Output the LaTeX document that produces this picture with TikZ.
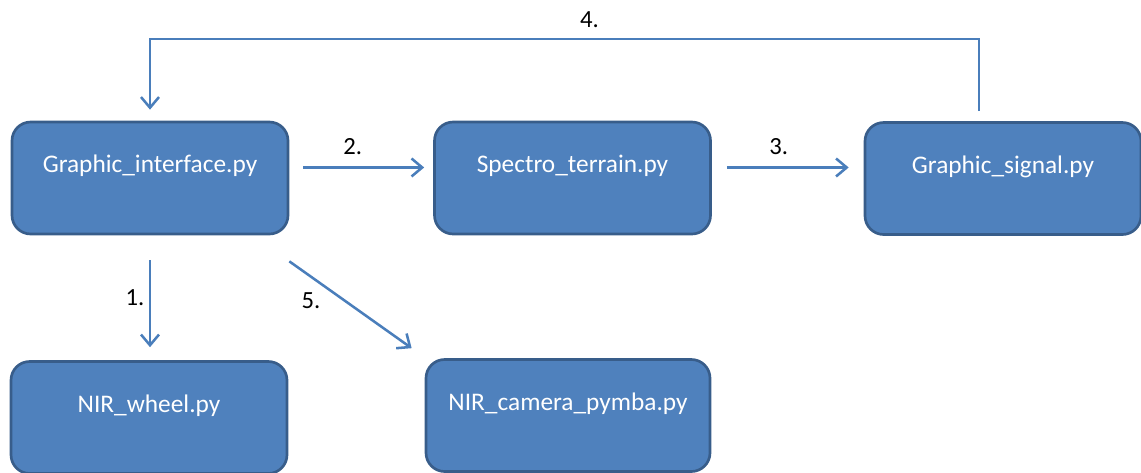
\documentclass[tikz,border=0pt]{standalone}
\usepackage{fontspec}
\setmainfont{Carlito}
\usetikzlibrary{arrows.meta}
\definecolor{boxfill}{HTML}{4F81BD}
\definecolor{boxline}{HTML}{385D8A}
\definecolor{arrowblue}{HTML}{4A7EBB}
\begin{document}
\begin{tikzpicture}
    [
    x=0.75pt, y=-0.75pt,
    module/.style={
      rectangle,
      rounded corners=14pt,
      fill=boxfill,
      draw=boxline,
      line width=2pt,
      text=white,
      font=\fontsize{19}{23}\selectfont,
      minimum width=207pt,
      inner sep=0pt,
      text height=38pt,
      text depth=46pt
    },
    flow/.style={
      draw=arrowblue,
      line width=1.9pt,
      -{Straight Barb[length=8pt,width=13.5pt]}
    },
    num/.style={
      text=black,
      font=\fontsize{18.5}{22}\selectfont
    }]
    \useasboundingbox (0,0) rectangle (1141,472);
    \node (gui) at (150,178) [module] {Graphic\_interface.py};
    \node (spectro) at (572.5,178) [module] {Spectro\_terrain.py};
    \node (signal) at (1003,178.5) [module] {Graphic\_signal.py};
    \node (wheel) at (149,417.5) [module] {NIR\_wheel.py};
    \node (camera) at (568,415.5) [module, minimum width=213pt] {NIR\_camera\_pymba.py};
    \draw [flow, shorten <=10.5pt, shorten >=6.75pt] ([yshift=1.5pt]gui.mid east)
      -- node [num, above=5pt, pos=0.44] {2.} ([yshift=1.5pt]gui.mid east -| spectro.west);
    \draw [flow, shorten <=11.25pt, shorten >=11.25pt] ([yshift=1.5pt]spectro.mid east)
      -- node [num, above=5pt, pos=0.44] {3.} ([yshift=1.5pt]spectro.mid east -| signal.west);
    \draw [flow, shorten <=18.75pt, shorten >=9.75pt] (gui.south)
      -- node [num, left, midway] {1.} (gui.south |- wheel.north);
    \draw [flow] ([yshift=-19.5pt]gui.south east)
      -- node [num, below left, pos=0.3] {5.} ([shift={(-9.75pt,7.5pt)}]camera.north west);
    \draw [flow] ([xshift=-18pt,yshift=7.5pt]signal.north) -- ++(0,-72)
      -| node [num, above=4pt, pos=0.235] {4.} ([yshift=8.25pt]gui.north);
  \end{tikzpicture}
\end{document}
